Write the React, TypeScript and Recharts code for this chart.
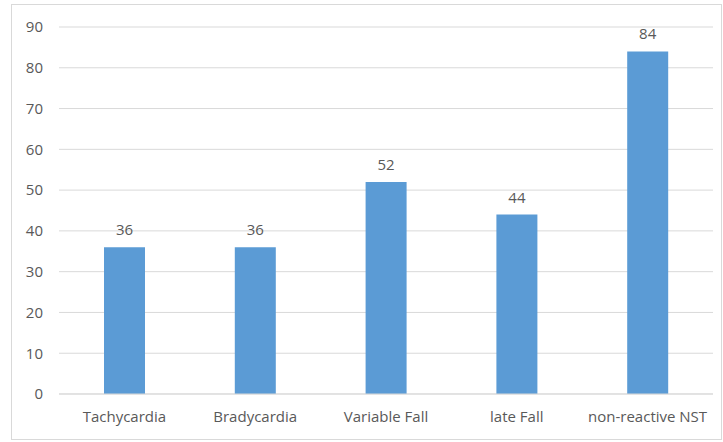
import React from "react";
import { BarChart, Bar, XAxis, YAxis, CartesianGrid, LabelList } from "recharts";

const categories = ["Tachycardia", "Bradycardia", "Variable Fall", "late Fall", "non-reactive NST"];
const values = [36, 36, 52, 44, 84];
const yTicks = [0, 10, 20, 30, 40, 50, 60, 70, 80, 90];

const data = categories.map((name, i) => ({ name, value: values[i] }));

const font = "'Open Sans', sans-serif";

export default function App() {
  return (
    <div style={{ position: "absolute", left: 0, top: 0, width: 723, height: 442, background: "#fff" }}>
      <div
        style={{
          position: "absolute",
          left: 11,
          top: 4,
          width: 711,
          height: 436,
          border: "1px solid #d9d9d9",
          boxSizing: "border-box",
        }}
      />
      <div style={{ position: "absolute", left: 0, top: 0 }}>
        <BarChart width={723} height={442} data={data} margin={{ top: 27, right: 10, bottom: 18, left: 0 }}>
          <CartesianGrid vertical={false} stroke="#d9d9d9" strokeWidth={1} />
          <XAxis
            dataKey="name"
            axisLine={{ stroke: "#d9d9d9" }}
            tickLine={false}
            tickMargin={11}
            interval={0}
            tick={{ fill: "#595959", fontSize: 15, fontFamily: font }}
          />
          <YAxis
            width={59}
            domain={[0, 90]}
            ticks={yTicks}
            axisLine={false}
            tickLine={false}
            tickMargin={10}
            tick={{ fill: "#595959", fontSize: 15, fontFamily: font }}
          />
          <Bar dataKey="value" fill="#5B9BD5" barSize={41} isAnimationActive={false}>
            <LabelList dataKey="value" position="top" offset={12} fill="#595959" fontSize={15} fontFamily={font} />
          </Bar>
        </BarChart>
      </div>
    </div>
  );
}
